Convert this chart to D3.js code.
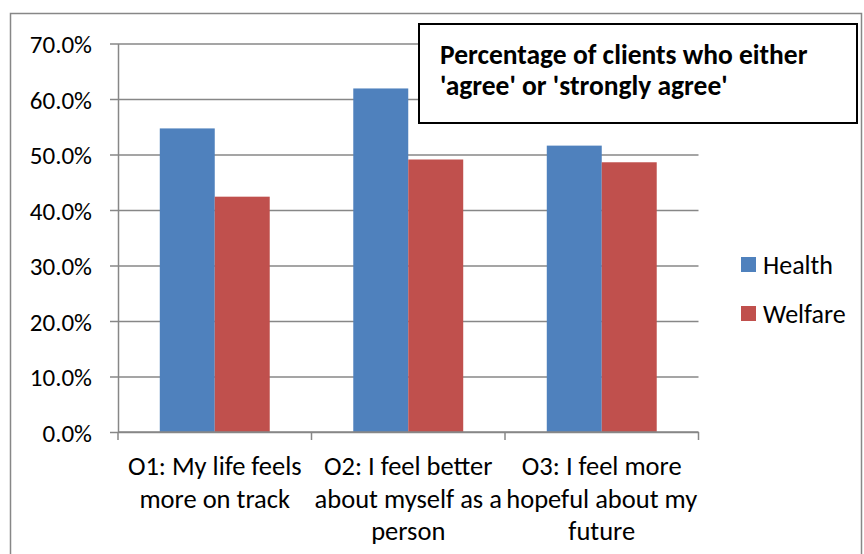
<!DOCTYPE html>
<html>
<head>
<meta charset="utf-8">
<script src="https://cdn.jsdelivr.net/npm/d3@7"></script>
<style>
	body { margin: 0; background: #fff; }
	svg text { font-family: Carlito, Calibri, Lato, sans-serif; fill: #000; }
</style>
</head>
<body>
<svg id="chart" width="864" height="554"></svg>
<script>
const CATEGORIES = [
	['O1: My life feels', 'more on track'],
	['O2: I feel better', 'about myself as a', 'person'],
	['O3: I feel more', 'hopeful about my', 'future']
];
const SERIES = ['Health', 'Welfare'];
const HEALTH = [0.547, 0.619, 0.516];
const WELFARE = [0.424, 0.491, 0.486];
const Y_TICKS = [0, 0.1, 0.2, 0.3, 0.4, 0.5, 0.6, 0.7];
const COLORS = ['#4f81bd', '#c0504d'];
const TITLE = ['Percentage of clients who either', "'agree' or 'strongly agree'"];

const $svg = d3.select('#chart');
const plot = { left: 118, right: 698.5, top: 43.5, bottom: 432 };

// outer chart frame
$svg.append('rect')
	.attr('x', 10.5).attr('y', 13.5)
	.attr('width', 851).attr('height', 600)
	.attr('fill', 'none').attr('stroke', '#878787').attr('stroke-width', 1.5);

const x = d3.scaleBand()
	.domain(d3.range(CATEGORIES.length))
	.range([plot.left, plot.right]);
const inner = d3.scaleBand()
	.domain(SERIES)
	.range([0, x.bandwidth()])
	.paddingInner(0)
	.paddingOuter(0.76);
const y = d3.scaleLinear().domain([0, 0.7]).range([plot.bottom, plot.top]);

// gridlines + y axis
const yAxis = d3.axisLeft(y)
	.tickValues(Y_TICKS)
	.tickFormat(d3.format('.1%'))
	.tickSizeInner(-(plot.right - plot.left))
	.tickSizeOuter(0)
	.tickPadding(0);
const $y = $svg.append('g')
	.attr('transform', `translate(${plot.left},0)`)
	.call(yAxis);
$y.select('.domain').attr('stroke', '#878787').attr('stroke-width', 1.5);
$y.selectAll('.tick line')
	.attr('x1', -8)
	.attr('stroke', '#878787').attr('stroke-width', 1.5);
$y.selectAll('.tick text')
	.attr('x', -26)
	.attr('dy', '0.36em')
	.attr('font-size', 25)
	.style('font-family', 'Carlito, Calibri, Lato, sans-serif');

// bars
const rows = SERIES.map((s, i) => (i === 0 ? HEALTH : WELFARE).map((v, c) => ({ s, i, c, v })));
$svg.append('g')
	.selectAll('g')
	.data(rows)
	.join('g')
	.attr('fill', (d, i) => COLORS[i])
	.selectAll('rect')
	.data(d => d)
	.join('rect')
	.attr('x', d => x(d.c) + inner(d.s))
	.attr('width', inner.bandwidth())
	.attr('y', d => y(d.v))
	.attr('height', d => y(0) - y(d.v));

// x axis
const $x = $svg.append('g').attr('transform', `translate(0,${plot.bottom})`);
$x.append('line')
	.attr('x1', plot.left).attr('x2', plot.right)
	.attr('stroke', '#878787').attr('stroke-width', 1.5);
$x.selectAll('line.tick')
	.data(d3.range(CATEGORIES.length + 1))
	.join('line')
	.attr('class', 'tick')
	.attr('x1', d => (d < CATEGORIES.length ? x(d) : plot.right))
	.attr('x2', d => (d < CATEGORIES.length ? x(d) : plot.right))
	.attr('y1', 0).attr('y2', 8)
	.attr('stroke', '#878787').attr('stroke-width', 1.5);
$x.selectAll('text')
	.data(CATEGORIES)
	.join('text')
	.attr('text-anchor', 'middle')
	.attr('font-size', 26.5)
	.selectAll('tspan')
	.data((d, c) => d.map((line, k) => ({ line, k, c })))
	.join('tspan')
	.attr('x', d => x(d.c) + x.bandwidth() / 2)
	.attr('y', d => 43 + d.k * 32.5)
	.text(d => d.line);

// legend
const $legend = $svg.append('g');
SERIES.forEach((s, i) => {
	const ly = 264.5 + i * 49;
	$legend.append('rect')
		.attr('x', 741).attr('y', ly - 7.5)
		.attr('width', 15).attr('height', 15)
		.attr('fill', COLORS[i]);
	$legend.append('text')
		.attr('x', 763).attr('y', ly + 9)
		.attr('font-size', 26)
		.text(s);
});

// title box
const $title = $svg.append('g');
$title.append('rect')
	.attr('x', 419).attr('y', 24)
	.attr('width', 438).attr('height', 99)
	.attr('fill', '#fff').attr('stroke', '#000').attr('stroke-width', 2);
$title.selectAll('text')
	.data(TITLE)
	.join('text')
	.attr('x', 440)
	.attr('y', (d, i) => 64 + i * 31)
	.attr('font-size', 27.5)
	.attr('font-weight', 'bold')
	.text(d => d);
</script>
</body>
</html>
